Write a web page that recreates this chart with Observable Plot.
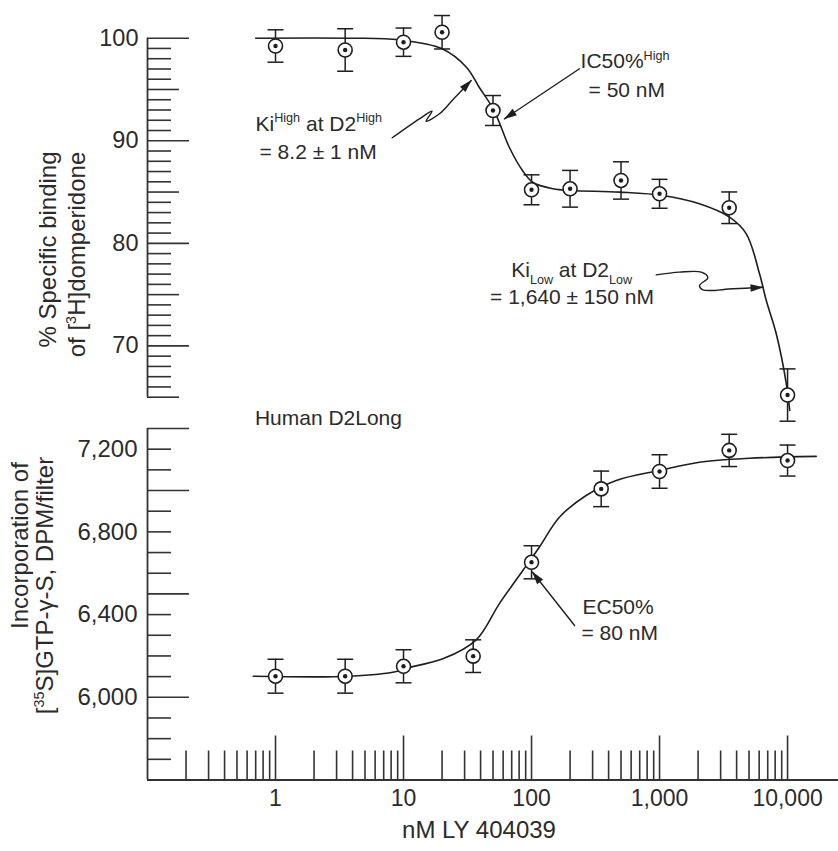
<!DOCTYPE html>
<html>
<head>
<meta charset="utf-8">
<script src="https://cdn.jsdelivr.net/npm/d3@7"></script>
<script src="https://cdn.jsdelivr.net/npm/@observablehq/plot@0.6"></script>
<style>
  html, body { margin: 0; padding: 0; background: #fff; }
  #wrap { position: relative; width: 838px; height: 851px; overflow: hidden; }
  #wrap svg { position: absolute; left: 0; overflow: visible; background: transparent; }
</style>
</head>
<body>
<div id="wrap"></div>
<script>
// ---------- data ----------
const concTop = [1, 3.5, 10, 20, 50, 100, 200, 500, 1000, 3500, 10000];
const bindingTop = [99.24, 98.85, 99.61, 100.58, 92.95, 85.22, 85.32, 86.13, 84.83, 83.47, 65.21];
const bindingErr = [1.58, 2.07, 1.38, 1.63, 1.46, 1.46, 1.79, 1.82, 1.41, 1.54, 2.55];

const concBottom = [1, 3.5, 10, 35, 100, 350, 1000, 3500, 10000];
const gtpValues = [6102, 6102, 6150, 6199, 6653, 7008, 7092, 7194, 7145];
const gtpErr = [82, 82, 80, 79, 80, 86, 81, 78, 75];

// fitted curves
const topFitX = [0.7, 3.8, 9.3, 20, 31, 39, 51, 67, 85, 102, 147, 205, 490, 1060, 2050, 3520, 4760, 6040, 6820, 8160, 9780, 10400];
const topFitY = [100, 100, 99.84, 98.97, 97.17, 95.22, 92.95, 89.37, 87.1, 85.96, 85.32, 85.15, 84.99, 84.66, 83.85, 82.55, 80.93, 77.03, 74.43, 71.18, 66.31, 63.7];
const bottomFitX = [0.67, 3.8, 8.8, 10, 20.3, 37, 56, 85.5, 115, 165, 267, 459, 1000, 2050, 5050, 16750];
const bottomFitY = [6102, 6102, 6125, 6138, 6186, 6278, 6452, 6613, 6726, 6871, 6976, 7049, 7097, 7137, 7156, 7165];

// axes
const xDomain = [0.1, 25000];
const topYDomain = [65, 100];
const bottomYDomain = [5600, 7300];
const xMajorTicks = [1, 10, 100, 1000, 10000];
const xTickLabels = ["1", "10", "100", "1,000", "10,000"];
const xMinorTicks = [0.2, 0.3, 0.4, 0.5, 0.6, 0.7, 0.8, 0.9,
  2, 3, 4, 5, 6, 7, 8, 9,
  20, 30, 40, 50, 60, 70, 80, 90,
  200, 300, 400, 500, 600, 700, 800, 900,
  2000, 3000, 4000, 5000, 6000, 7000, 8000, 9000];
const topYLabels = [70, 80, 90, 100];
const topYMajor = [70, 80, 90, 100];
const topYMid = [65, 75, 85, 95];
const topYMinor = d3.range(66, 100).filter(v => v % 5 !== 0);
const bottomYLabels = [6000, 6400, 6800, 7200];
const bottomYLabelText = ["6,000", "6,400", "6,800", "7,200"];
const bottomYMajor = [6000, 6500, 7000, 7300];
const bottomYMinor = d3.range(5700, 7300, 100).filter(v => !bottomYMajor.includes(v));

const xTitle = "nM LY 404039";
const topTitle = ["% Specific binding", "of [^{3}H]domperidone"];
const bottomTitle = ["Incorporation of", "[^{35}S]GTP-γ-S, DPM/filter"];

// annotations (data coordinates)
const topNoteText = ["Ki^{High} at D2^{High}", "= 8.2 ± 1 nM", "IC50%^{High}", "= 50 nM", "Ki_{Low} at D2_{Low}", "= 1,640 ± 150 nM"];
const topNoteX = [0.698, 0.75, 241.5, 279, 69.4, 47.4];
const topNoteY = [91.0, 88.27, 97.05, 94.22, 76.7, 74.1];
const bottomNoteText = ["Human D2Long", "EC50%", "= 80 nM"];
const bottomNoteX = [0.69, 250, 245.7];
const bottomNoteY = [7315, 6405, 6275];

const kiHighArrowX = [8.16, 13.3, 16.7, 15.0, 19.1, 25.0, 33.8];
const kiHighArrowY = [90.29, 92.14, 92.88, 91.91, 92.63, 94.17, 95.88];
const ic50ArrowX = [237, 61.5];
const ic50ArrowY = [97.02, 92.14];
const kiLowArrowX = [942, 1433, 2118, 2385, 2053, 2180, 3740, 6412];
const kiLowArrowY = [76.93, 77.19, 77.19, 76.64, 75.89, 75.47, 75.57, 75.72];
const ec50ArrowX = [217, 101.8];
const ec50ArrowY = [6347, 6605];

// ---------- styling ----------
const ink = "#1e1e1e";
const axisInk = "#333";
const textInk = "#2b2b2b";
const font = "'Liberation Sans', Arial, Helvetica, sans-serif";
const W = 838, ML = 147, MR = 0;
const frameW = W - ML - MR;

const zip = (xs, ys) => xs.map((x, i) => ({x, y: ys[i]}));
const rowsOf = (xs, ys, es) => xs.map((x, i) => ({x, y: ys[i], lo: ys[i] - es[i], hi: ys[i] + es[i]}));

const capSymbol = {
  draw(ctx, size) {
    const w = Math.sqrt(size / Math.PI);
    ctx.moveTo(-w, 0);
    ctx.lineTo(w, 0);
  }
};

function pointMarks(rows) {
  return [
    Plot.ruleX(rows, {x: "x", y1: "lo", y2: "hi", stroke: ink, strokeWidth: 1.5}),
    Plot.dot(rows, {x: "x", y: "lo", symbol: capSymbol, r: 8, fill: "none", stroke: ink, strokeWidth: 1.5}),
    Plot.dot(rows, {x: "x", y: "hi", symbol: capSymbol, r: 8, fill: "none", stroke: ink, strokeWidth: 1.5}),
    Plot.dot(rows, {x: "x", y: "y", r: 7, fill: "white", stroke: ink, strokeWidth: 1.6}),
    Plot.dot(rows, {x: "x", y: "y", r: 2.2, fill: ink, stroke: "none"})
  ];
}

function arrowLine(xs, ys, curve) {
  return Plot.line(zip(xs, ys), {x: "x", y: "y", curve, stroke: ink, strokeWidth: 1.4, markerEnd: "arrow"});
}

const titleOpts = {text: d => d, frameAnchor: "left", rotate: -90, textAnchor: "middle", lineAnchor: "middle", fontSize: 24, fill: textInk};

// ---------- top panel ----------
const topH = 440;
const topMid = (37.7 + 396.7) / 2;
const topRows = rowsOf(concTop, bindingTop, bindingErr);
const topPlot = Plot.plot({
  width: W, height: topH,
  marginLeft: ML, marginRight: MR, marginTop: 37.7, marginBottom: topH - 396.7,
  style: {fontFamily: font, color: textInk, background: "transparent", overflow: "visible"},
  x: {type: "log", domain: xDomain, axis: null},
  y: {domain: topYDomain, axis: null},
  marks: [
    Plot.ruleX([xDomain[0]], {x: d => d, stroke: axisInk, strokeWidth: 1.8}),
    Plot.tickY(topYMajor, {y: d => d, insetRight: frameW - 42, stroke: axisInk, strokeWidth: 1.6}),
    Plot.tickY(topYMid, {y: d => d, insetRight: frameW - 32, stroke: axisInk, strokeWidth: 1.6}),
    Plot.tickY(topYMinor, {y: d => d, insetRight: frameW - 24, stroke: axisInk, strokeWidth: 1.6}),
    Plot.text(topYLabels, {x: xDomain[0], y: d => d, text: d => String(d), textAnchor: "end", dx: -9, fontSize: 23.5, fill: textInk}),
    Plot.text([topTitle[0]], {...titleOpts, dx: -99, dy: 249 - topMid}),
    Plot.text([topTitle[1]], {...titleOpts, dx: -70, dy: 254 - topMid}),
    Plot.line(zip(topFitX, topFitY), {x: "x", y: "y", curve: "catmull-rom", stroke: ink, strokeWidth: 1.6}),
    ...pointMarks(topRows),
    Plot.text(topNoteText, {x: (d, i) => topNoteX[i], y: (d, i) => topNoteY[i], text: d => d, textAnchor: "start", lineAnchor: "bottom", fontSize: 21, fill: textInk}),
    arrowLine(kiHighArrowX, kiHighArrowY, "catmull-rom"),
    arrowLine(ic50ArrowX, ic50ArrowY, "linear"),
    arrowLine(kiLowArrowX, kiLowArrowY, "catmull-rom")
  ]
});

// ---------- bottom panel ----------
const botTop = 400, botH = 451;
const botMT = 28, botMB = botH - 379.5;
const frameH = botH - botMT - botMB;
const botMid = botMT + frameH / 2;
const botRows = rowsOf(concBottom, gtpValues, gtpErr);
const bottomPlot = Plot.plot({
  width: W, height: botH,
  marginLeft: ML, marginRight: MR, marginTop: botMT, marginBottom: botMB,
  style: {fontFamily: font, color: textInk, background: "transparent", overflow: "visible"},
  x: {type: "log", domain: xDomain, axis: null},
  y: {domain: bottomYDomain, axis: null},
  marks: [
    Plot.ruleX([xDomain[0]], {x: d => d, stroke: axisInk, strokeWidth: 1.8}),
    Plot.ruleY([bottomYDomain[0]], {y: d => d, stroke: axisInk, strokeWidth: 1.8}),
    Plot.tickY(bottomYMajor, {y: d => d, insetRight: frameW - 42, stroke: axisInk, strokeWidth: 1.6}),
    Plot.tickY(bottomYMinor, {y: d => d, insetRight: frameW - 24, stroke: axisInk, strokeWidth: 1.6}),
    Plot.tickX(xMajorTicks, {x: d => d, insetTop: frameH - 44, stroke: axisInk, strokeWidth: 1.6}),
    Plot.tickX(xMinorTicks, {x: d => d, insetTop: frameH - 29, stroke: axisInk, strokeWidth: 1.6}),
    Plot.text(bottomYLabels, {x: xDomain[0], y: d => d, text: (d, i) => bottomYLabelText[i], textAnchor: "end", dx: -10, fontSize: 24, fill: textInk}),
    Plot.text(xMajorTicks, {x: d => d, y: bottomYDomain[0], text: (d, i) => xTickLabels[i], dy: 18.5, fontSize: 23, fill: textInk}),
    Plot.text([xTitle], {text: d => d, frameAnchor: "bottom", textAnchor: "middle", lineAnchor: "middle", dx: -14, dy: 430 - 379.5, fontSize: 24, fill: textInk}),
    Plot.text([bottomTitle[0]], {...titleOpts, dx: -127, dy: 145 - botMid}),
    Plot.text([bottomTitle[1]], {...titleOpts, dx: -102, dy: 185 - botMid}),
    Plot.line(zip(bottomFitX, bottomFitY), {x: "x", y: "y", curve: "catmull-rom", stroke: ink, strokeWidth: 1.6}),
    ...pointMarks(botRows),
    Plot.text(bottomNoteText, {x: (d, i) => bottomNoteX[i], y: (d, i) => bottomNoteY[i], text: d => d, textAnchor: "start", lineAnchor: "bottom", fontSize: 21, fill: textInk}),
    arrowLine(ec50ArrowX, ec50ArrowY, "linear")
  ]
});

const wrap = document.getElementById("wrap");
topPlot.style.top = "0px";
bottomPlot.style.top = botTop + "px";
wrap.appendChild(topPlot);
wrap.appendChild(bottomPlot);

// turn ^{..} and _{..} markup into raised / lowered tspans
function richText(svg) {
  d3.select(svg).selectAll("text").each(function() {
    if (this.querySelector("tspan")) return;
    const s = this.textContent;
    if (!/[\^_]\{/.test(s)) return;
    const fs = parseFloat(getComputedStyle(this).fontSize) || 21;
    const parts = [];
    const re = /([\^_])\{([^}]*)\}/g;
    let last = 0, m;
    while ((m = re.exec(s))) {
      if (m.index > last) parts.push({t: s.slice(last, m.index), k: ""});
      parts.push({t: m[2], k: m[1]});
      last = re.lastIndex;
    }
    if (last < s.length) parts.push({t: s.slice(last), k: ""});
    this.textContent = "";
    let shift = 0;
    for (const p of parts) {
      const ts = d3.select(this).append("tspan").text(p.t);
      const target = p.k === "^" ? -0.4 * fs : p.k === "_" ? 0.3 * fs : 0;
      if (target !== shift) ts.attr("dy", (target - shift).toFixed(2));
      if (p.k) ts.attr("font-size", (0.6 * fs).toFixed(1) + "px");
      shift = target;
    }
  });
}

// solid triangular arrow heads like the reference
function solidHeads(svg) {
  d3.select(svg).selectAll("marker").each(function() {
    const m = d3.select(this);
    const color = m.attr("stroke") || ink;
    m.attr("viewBox", "-12 -5 13 10")
     .attr("markerWidth", 10.4)
     .attr("markerHeight", 8)
     .attr("fill", color)
     .attr("stroke", "none");
    m.selectAll("*").remove();
    m.append("path").attr("d", "M-11,-3.4L0.8,0L-11,3.4Z");
  });
}
richText(topPlot);
richText(bottomPlot);
solidHeads(topPlot);
solidHeads(bottomPlot);
</script>
</body>
</html>
